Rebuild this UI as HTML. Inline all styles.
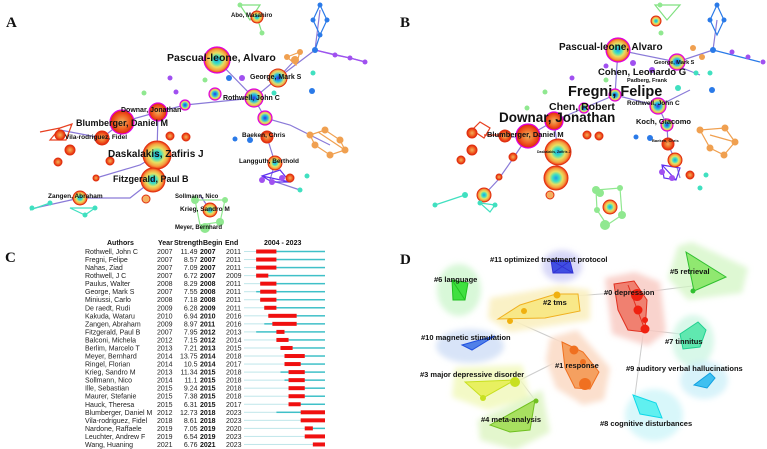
<!DOCTYPE html>
<html><head><meta charset="utf-8"><style>
html,body{margin:0;padding:0;background:#fff}
svg{display:block}
text{font-family:"Liberation Sans",sans-serif;font-weight:bold;fill:#111}
.pl{font-family:"Liberation Serif",serif;font-size:15px;font-weight:bold}
.t{font-size:7px;font-weight:normal;fill:#222}
.tb{font-size:7px;font-weight:bold;fill:#111}
</style></head><body>
<svg id="fig" width="767" height="449" viewBox="0 0 767 449" xmlns="http://www.w3.org/2000/svg">
<defs>
<radialGradient id="g1"><stop offset="0" stop-color="#1aa0e8"/><stop offset="0.3" stop-color="#40e0c0"/><stop offset="0.55" stop-color="#e8e060"/><stop offset="0.8" stop-color="#f5a040"/><stop offset="1" stop-color="#f03010"/></radialGradient>
<radialGradient id="g2"><stop offset="0" stop-color="#3030e0"/><stop offset="0.4" stop-color="#20c0e0"/><stop offset="0.7" stop-color="#e0e070"/><stop offset="1" stop-color="#f08030"/></radialGradient>
<radialGradient id="g3"><stop offset="0" stop-color="#f0b060"/><stop offset="0.6" stop-color="#f06020"/><stop offset="1" stop-color="#e02010"/></radialGradient>
<filter id="bl" x="-30%" y="-30%" width="160%" height="160%"><feGaussianBlur stdDeviation="3"/></filter>
</defs>

<!-- PANEL A -->
<g>
<text class="pl" x="6" y="27">A</text>
<g stroke-width="1.2" fill="none">
<path d="M217,60 L254,98 L278,78 L315,50 L320,10 M315,50 L350,58 L366,62 M278,78 L295,60 M254,98 L265,118 L290,125 L330,145 M254,98 L185,105 L158,112 L122,122 L102,138 L60,130 M157,155 L153,180 L130,198 L80,198 L35,208 M157,155 L158,112 M157,155 L140,165 L96,178 M210,210 L200,195 M267,137 L275,163 L270,180 L300,190" stroke="#8a7ad8"/>
<path d="M60,128 L72,124 L66,140 L50,140 Z M40,132 L60,128" stroke="#e84020"/>
<path d="M320,5 L327,20 L320,35 L313,20 Z M320,35 L315,50" stroke="#2a7ae8"/>
<path d="M315,50 L335,55 L350,58 L365,62" stroke="#a050f0"/>
<path d="M310,135 L325,130 L340,140 L345,150 L330,155 L315,145 Z M318,132 L345,150" stroke="#f0a050"/>
<path d="M262,176 L280,170 L290,182 L272,182 Z M262,176 L290,182" stroke="#6030f0"/>
<path d="M30,210 L50,203 M70,208 L85,215 L95,208 Z" stroke="#40e0c0"/>
<path d="M195,200 L225,200 L220,222 L200,225 Z" stroke="#90e890"/>
<path d="M240,5 L260,5 L250,20 Z M257,17 L262,33" stroke="#80e080"/>
<path d="M287,57 L300,52 L296,65 Z" stroke="#f0a050"/>
</g>
<g stroke="#e000e0" stroke-width="1.2">
<circle cx="217" cy="60" r="13" fill="url(#g1)"/>
<circle cx="254" cy="98" r="9" fill="url(#g2)"/>
<circle cx="215" cy="94" r="6" fill="url(#g2)"/>
<circle cx="265" cy="118" r="7" fill="url(#g2)"/>
<circle cx="185" cy="105" r="5" fill="url(#g2)"/>
<circle cx="158" cy="112" r="9" fill="url(#g3)"/>
<circle cx="122" cy="122" r="12" fill="url(#g3)"/>
</g>
<g stroke="#e03010" stroke-width="1">
<circle cx="278" cy="78" r="9" fill="url(#g2)"/>
<circle cx="102" cy="138" r="7" fill="url(#g3)"/>
<circle cx="60" cy="135" r="5" fill="url(#g3)"/>
<circle cx="70" cy="150" r="5" fill="url(#g3)"/>
<circle cx="58" cy="162" r="4" fill="url(#g3)"/>
<circle cx="110" cy="161" r="4" fill="url(#g3)"/>
<circle cx="96" cy="178" r="3" fill="url(#g3)"/>
<circle cx="157" cy="155" r="14" fill="url(#g1)"/>
<circle cx="153" cy="180" r="12" fill="url(#g1)"/>
<circle cx="170" cy="136" r="4" fill="url(#g3)"/>
<circle cx="186" cy="137" r="4" fill="url(#g3)"/>
<circle cx="80" cy="198" r="7" fill="url(#g1)"/>
<circle cx="210" cy="210" r="7" fill="url(#g1)"/>
<circle cx="267" cy="137" r="6" fill="url(#g3)"/>
<circle cx="275" cy="163" r="7" fill="url(#g1)"/>
<circle cx="257" cy="17" r="6" fill="url(#g1)"/>
<circle cx="290" cy="178" r="4" fill="url(#g3)"/>
<circle cx="146" cy="199" r="4" fill="#f5b060"/>
</g>
<g fill="#40e0c0"><circle cx="32" cy="208" r="2.5"/><circle cx="50" cy="203" r="2.5"/><circle cx="85" cy="215" r="2.5"/><circle cx="95" cy="208" r="2.5"/><circle cx="307" cy="176" r="2.5"/><circle cx="300" cy="190" r="2.5"/><circle cx="274" cy="93" r="2.5"/><circle cx="313" cy="73" r="2.5"/></g>
<g fill="#2a7ae8"><circle cx="320" cy="5" r="2.5"/><circle cx="327" cy="20" r="2.5"/><circle cx="313" cy="20" r="2.5"/><circle cx="320" cy="35" r="2.5"/><circle cx="315" cy="50" r="3"/><circle cx="312" cy="91" r="3"/><circle cx="235" cy="139" r="2.5"/><circle cx="250" cy="140" r="3"/><circle cx="229" cy="78" r="3"/></g>
<g fill="#a050f0"><circle cx="335" cy="55" r="2.5"/><circle cx="350" cy="58" r="2.5"/><circle cx="365" cy="62" r="2.5"/><circle cx="170" cy="78" r="2.5"/><circle cx="176" cy="92" r="2.5"/><circle cx="242" cy="78" r="3"/><circle cx="262" cy="180" r="3"/><circle cx="272" cy="182" r="3"/><circle cx="282" cy="178" r="3"/></g>
<g fill="#f0a050"><circle cx="310" cy="135" r="3.5"/><circle cx="325" cy="130" r="3.5"/><circle cx="340" cy="140" r="3.5"/><circle cx="345" cy="150" r="3.5"/><circle cx="330" cy="155" r="3.5"/><circle cx="315" cy="145" r="3.5"/><circle cx="287" cy="57" r="3"/><circle cx="300" cy="52" r="3"/><circle cx="295" cy="60" r="4"/></g>
<g fill="#90e890"><circle cx="195" cy="200" r="4"/><circle cx="225" cy="200" r="3"/><circle cx="220" cy="222" r="4"/><circle cx="205" cy="228" r="5"/><circle cx="240" cy="5" r="2.5"/><circle cx="262" cy="33" r="2.5"/><circle cx="144" cy="93" r="2.5"/><circle cx="205" cy="80" r="2.5"/></g>
<text x="167" y="61" font-size="10.5">Pascual-leone, Alvaro</text>
<text x="250" y="79" font-size="7">George, Mark S</text>
<text x="223" y="100" font-size="7">Rothwell, John C</text>
<text x="121" y="112" font-size="7">Downar, Jonathan</text>
<text x="76" y="126" font-size="9">Blumberger, Daniel M</text>
<text x="65" y="139" font-size="6.5">Vila-rodriguez, Fidel</text>
<text x="108" y="157" font-size="10">Daskalakis, Zafiris J</text>
<text x="113" y="182" font-size="9">Fitzgerald, Paul B</text>
<text x="48" y="198" font-size="6.5">Zangen, Abraham</text>
<text x="175" y="198" font-size="6">Sollmann, Nico</text>
<text x="180" y="211" font-size="6.5">Krieg, Sandro M</text>
<text x="175" y="229" font-size="6">Meyer, Bernhard</text>
<text x="242" y="137" font-size="6.5">Baeken, Chris</text>
<text x="239" y="163" font-size="6.5">Langguth, Berthold</text>
<text x="231" y="17" font-size="6">Abo, Masahiro</text>
</g>

<!-- PANEL B -->
<g>
<text class="pl" x="400" y="27">B</text>
<g stroke-width="1.2" fill="none">
<path d="M618,50 L615,95 L584,108 L554,121 L528,136 L500,138 M618,50 L677,62 L713,50 L717,20 M615,95 L658,106 L667,125 L668,144 L675,160 L680,178 M554,121 L558,152 L556,178 M528,136 L512,160 L498,180 L484,195 M667,62 L700,75 M658,106 L690,90" stroke="#8a7ad8"/>
<path d="M472,130 L480,122 L490,128 L484,138 Z M484,135 L506,135" stroke="#e84020"/>
<path d="M717,5 L724,20 L717,35 L710,20 Z M713,50 L760,62" stroke="#2a7ae8"/>
<path d="M700,130 L725,128 L735,142 L724,155 L710,148 Z M710,135 L735,142" stroke="#f0a050"/>
<path d="M662,165 L680,168 L676,180 L664,178 Z M662,165 L676,180" stroke="#6030f0"/>
<path d="M435,205 L465,195 M480,203 L495,205 L490,212 Z" stroke="#40e0c0"/>
<path d="M596,190 L620,188 L622,215 L607,225 L597,210 Z" stroke="#90e890"/>
<path d="M655,5 L680,5 L667,20 Z" stroke="#80e080"/>
</g>
<g stroke="#e000e0" stroke-width="1.2">
<circle cx="618" cy="50" r="12" fill="url(#g1)"/>
<circle cx="677" cy="62" r="8" fill="url(#g2)"/>
<circle cx="615" cy="95" r="6" fill="url(#g2)"/>
<circle cx="584" cy="108" r="5" fill="url(#g2)"/>
<circle cx="658" cy="106" r="8" fill="url(#g2)"/>
<circle cx="554" cy="121" r="9" fill="url(#g3)"/>
<circle cx="667" cy="125" r="6" fill="url(#g2)"/>
<circle cx="528" cy="136" r="12" fill="url(#g3)"/>
</g>
<g stroke="#e03010" stroke-width="1">
<circle cx="558" cy="152" r="13" fill="url(#g1)"/>
<circle cx="556" cy="178" r="12" fill="url(#g1)"/>
<circle cx="668" cy="144" r="6" fill="url(#g3)"/>
<circle cx="675" cy="160" r="7" fill="url(#g1)"/>
<circle cx="505" cy="136" r="6" fill="url(#g3)"/>
<circle cx="472" cy="133" r="5" fill="url(#g3)"/>
<circle cx="472" cy="150" r="5" fill="url(#g3)"/>
<circle cx="461" cy="160" r="4" fill="url(#g3)"/>
<circle cx="513" cy="157" r="4" fill="url(#g3)"/>
<circle cx="499" cy="177" r="3" fill="url(#g3)"/>
<circle cx="484" cy="195" r="7" fill="url(#g1)"/>
<circle cx="610" cy="207" r="7" fill="url(#g1)"/>
<circle cx="656" cy="21" r="5" fill="url(#g1)"/>
<circle cx="690" cy="175" r="4" fill="url(#g3)"/>
<circle cx="587" cy="135" r="4" fill="url(#g3)"/>
<circle cx="599" cy="136" r="4" fill="url(#g3)"/>
<circle cx="550" cy="195" r="4" fill="#f5b060"/>
</g>
<g fill="#40e0c0"><circle cx="435" cy="205" r="2.5"/><circle cx="465" cy="195" r="3"/><circle cx="480" cy="203" r="2.5"/><circle cx="495" cy="205" r="2.5"/><circle cx="696" cy="73" r="2.5"/><circle cx="710" cy="73" r="2.5"/><circle cx="706" cy="175" r="2.5"/><circle cx="700" cy="188" r="2.5"/><circle cx="678" cy="88" r="3"/></g>
<g fill="#2a7ae8"><circle cx="717" cy="5" r="2.5"/><circle cx="724" cy="20" r="2.5"/><circle cx="710" cy="20" r="2.5"/><circle cx="713" cy="50" r="3"/><circle cx="712" cy="90" r="3"/><circle cx="636" cy="137" r="2.5"/><circle cx="650" cy="138" r="3"/></g>
<g fill="#a050f0"><circle cx="732" cy="52" r="2.5"/><circle cx="748" cy="57" r="2.5"/><circle cx="763" cy="62" r="2.5"/><circle cx="572" cy="78" r="2.5"/><circle cx="606" cy="66" r="2.5"/><circle cx="633" cy="63" r="3"/><circle cx="662" cy="172" r="3"/><circle cx="672" cy="178" r="3"/><circle cx="652" cy="70" r="3"/></g>
<g fill="#f0a050"><circle cx="700" cy="130" r="3.5"/><circle cx="725" cy="128" r="3.5"/><circle cx="735" cy="142" r="3.5"/><circle cx="724" cy="155" r="3.5"/><circle cx="710" cy="148" r="3.5"/><circle cx="693" cy="48" r="3"/><circle cx="702" cy="57" r="3"/></g>
<g fill="#90e890"><circle cx="596" cy="190" r="4"/><circle cx="620" cy="188" r="3"/><circle cx="622" cy="215" r="4"/><circle cx="605" cy="225" r="5"/><circle cx="597" cy="210" r="3"/><circle cx="600" cy="193" r="4"/><circle cx="660" cy="5" r="2.5"/><circle cx="661" cy="33" r="2.5"/><circle cx="545" cy="92" r="2.5"/><circle cx="527" cy="108" r="2.5"/><circle cx="606" cy="80" r="2.5"/></g>
<text x="559" y="50" font-size="10">Pascual-leone, Alvaro</text>
<text x="654" y="64" font-size="5.5">George, Mark S</text>
<text x="598" y="75" font-size="9.5">Cohen, Leonardo G</text>
<text x="627" y="82" font-size="5.5">Padberg, Frank</text>
<text x="568" y="96" font-size="14.5">Fregni, Felipe</text>
<text x="549" y="110" font-size="10.5">Chen, Robert</text>
<text x="627" y="105" font-size="6.5">Rothwell, John C</text>
<text x="499" y="122" font-size="13.5">Downar, Jonathan</text>
<text x="636" y="124" font-size="7.5">Koch, Giacomo</text>
<text x="487" y="137" font-size="7.5">Blumberger, Daniel M</text>
<text x="652" y="142" font-size="4">Baeken, Chris</text>
<text x="537" y="153" font-size="3.5">Daskalakis, Zafiris J</text>
</g>

<!-- PANEL C -->
<g id="panelC">
<text class="pl" x="5" y="262">C</text>
<text class="tb" x="107" y="245">Authors</text>
<text class="tb" x="158" y="245">Year</text>
<text class="tb" x="174" y="245">Strength</text>
<text class="tb" x="203" y="245">Begin</text>
<text class="tb" x="225" y="245">End</text>
<text class="tb" x="264" y="245">2004 - 2023</text>
</g>

<!-- PANEL D -->
<g>
<text class="pl" x="400" y="264">D</text>
<g stroke="#ccc" stroke-width="1" fill="none">
<line x1="512" y1="320" x2="568" y2="345"/><line x1="560" y1="297" x2="615" y2="293"/><line x1="645" y1="292" x2="700" y2="285"/><line x1="645" y1="330" x2="690" y2="335"/><line x1="643" y1="335" x2="635" y2="395"/><line x1="520" y1="380" x2="560" y2="360"/><line x1="520" y1="380" x2="535" y2="400"/>
</g>
<g filter="url(#bl)">
<ellipse cx="562" cy="266" rx="20" ry="16" fill="#c8c8f5" opacity="0.7"/>
<ellipse cx="459" cy="290" rx="22" ry="26" fill="#c8f5c8" opacity="0.7"/>
<path d="M678,246 L692,242 L748,268 L742,293 L688,300 L668,278 Z" fill="#d0f5c0" opacity="0.7"/>
<path d="M605,278 L635,272 L660,282 L666,332 L648,346 L612,334 Z" fill="#f8c8c0" opacity="0.8"/>
<path d="M490,298 L560,286 L590,290 L590,320 L510,332 L488,318 Z" fill="#faf0c0" opacity="0.9"/>
<ellipse cx="470" cy="346" rx="34" ry="17" fill="#c8d8f5" opacity="0.7"/>
<ellipse cx="693" cy="341" rx="21" ry="26" fill="#c8f5e0" opacity="0.7"/>
<path d="M550,338 L577,330 L610,368 L604,400 L583,405 L556,388 L546,360 Z" fill="#fbdcc8" opacity="0.9"/>
<ellipse cx="704" cy="380" rx="24" ry="19" fill="#c8eef8" opacity="0.7"/>
<path d="M455,368 L522,365 L530,398 L488,410 L452,397 Z" fill="#f2f8c0" opacity="0.9"/>
<path d="M478,420 L542,390 L550,432 L515,450 L480,440 Z" fill="#e0f5c8" opacity="0.9"/>
<ellipse cx="654" cy="415" rx="29" ry="26" fill="#c8f4f8" opacity="0.7"/>
</g>
<g stroke-width="1" >
<path d="M551,260 L570,261 L573,273 L553,273 Z M551,260 L573,273 M570,261 L553,273" fill="#3040e0" stroke="#2020d0" opacity="0.9"/>
<path d="M452,280 L468,283 L465,300 L453,300 Z M452,280 L465,300" fill="#40e040" stroke="#20c020"/>
<path d="M686,252 L726,277 L694,291 Z M686,252 L694,291" fill="#90e870" stroke="#30c030"/>
<path d="M614,284 L634,281 L647,300 L645,332 L628,330 L618,310 Z M628,285 L645,330" fill="#f08070" stroke="#e03020"/>
<path d="M498,319 L520,305 L556,294 L578,294 L580,311 L545,318 Z" fill="#f8e888" stroke="#f0b020"/>
<path d="M462,345 L476,341 L495,336 L472,350 Z" fill="#5080e8" stroke="#2050e0"/>
<path d="M680,334 L698,322 L706,330 L700,347 L683,349 Z" fill="#60e8b0" stroke="#20d090"/>
<path d="M562,342 L583,352 L599,372 L590,389 L575,388 L565,368 Z" fill="#f5a060" stroke="#f07020"/>
<path d="M694,385 L710,373 L715,378 L707,388 Z" fill="#40c0f0" stroke="#10a0e0"/>
<path d="M465,382 L515,380 L483,398 Z" fill="#e8f060" stroke="#c8e020"/>
<path d="M490,425 L535,400 L530,430 L510,432 Z" fill="#a8e060" stroke="#70c020"/>
<path d="M633,395 L656,403 L662,418 L640,414 Z" fill="#60f0f0" stroke="#10d8e8"/>
</g>
<g fill="#f02010"><circle cx="637" cy="295" r="6"/><circle cx="638" cy="310" r="4.5"/><circle cx="645" cy="329" r="4.5"/><circle cx="645" cy="320" r="3"/></g>
<g fill="#f07020"><circle cx="574" cy="350" r="4.5"/><circle cx="585" cy="384" r="6"/><circle cx="583" cy="362" r="3"/></g>
<g fill="#f0b010"><circle cx="510" cy="321" r="3"/><circle cx="557" cy="295" r="3.5"/><circle cx="524" cy="311" r="3"/></g>
<circle cx="515" cy="382" r="5" fill="#c8e020"/>
<circle cx="483" cy="398" r="3" fill="#c8e020"/>
<circle cx="536" cy="401" r="2.5" fill="#70c020"/>
<circle cx="693" cy="291" r="2.5" fill="#30c030"/>
<text x="490" y="262" font-size="7.5">#11 optimized treatment protocol</text>
<text x="434" y="282" font-size="7.5">#6 language</text>
<text x="670" y="274" font-size="7.5">#5 retrieval</text>
<text x="604" y="295" font-size="7.5">#0 depression</text>
<text x="543" y="305" font-size="7.5">#2 tms</text>
<text x="421" y="340" font-size="7.5">#10 magnetic stimulation</text>
<text x="665" y="344" font-size="7.5">#7 tinnitus</text>
<text x="555" y="368" font-size="7.5">#1 response</text>
<text x="626" y="371" font-size="7.5">#9 auditory verbal hallucinations</text>
<text x="420" y="377" font-size="7.5">#3 major depressive disorder</text>
<text x="481" y="422" font-size="7.5">#4 meta-analysis</text>
<text x="600" y="426" font-size="7.5">#8 cognitive disturbances</text>
</g>
</svg>
<script>
const authors=["Rothwell, John C","Fregni, Felipe","Nahas, Ziad","Rothwell, J C","Paulus, Walter","George, Mark S","Miniussi, Carlo","De raedt, Rudi","Kakuda, Wataru","Zangen, Abraham","Fitzgerald, Paul B","Balconi, Michela","Berlim, Marcelo T","Meyer, Bernhard","Ringel, Florian","Krieg, Sandro M","Sollmann, Nico","Ille, Sebastian","Maurer, Stefanie","Hauck, Theresa","Blumberger, Daniel M","Vila-rodriguez, Fidel","Nardone, Raffaele","Leuchter, Andrew F","Wang, Huaning"];
const years=[2007,2007,2007,2007,2008,2007,2008,2009,2010,2009,2007,2012,2013,2014,2014,2013,2014,2015,2015,2015,2012,2018,2019,2019,2021];
const strengths=["11.49","8.57","7.09","6.72","8.29","7.55","7.18","6.28","6.94","8.97","7.95","7.15","7.21","13.75","10.5","11.34","11.1","9.24","7.38","6.31","12.73","8.61","7.05","6.54","6.76"];
const begins=[2007,2007,2007,2007,2008,2008,2008,2009,2010,2011,2012,2012,2013,2014,2014,2015,2015,2015,2015,2015,2018,2018,2019,2019,2021];
const ends=[2011,2011,2011,2009,2011,2011,2011,2011,2016,2016,2013,2014,2015,2018,2017,2018,2018,2018,2018,2017,2023,2023,2020,2023,2023];
const NS="http://www.w3.org/2000/svg";
const g=document.getElementById('panelC');
const y0=251.5,dy=8.04,x0=244,yw=4.05,startY=2004,endY=2023;
const xs=yr=>x0+(yr-startY)*yw;
function mk(tag,attrs){const e=document.createElementNS(NS,tag);for(const k in attrs)e.setAttribute(k,attrs[k]);g.appendChild(e);return e;}
authors.forEach((a,i)=>{
  const y=y0+i*dy;
  let t=mk('text',{x:85,y:y+2.5,class:'t'});t.textContent=a;
  
  
  t=mk('text',{x:157,y:y+2.5,class:'t'});t.textContent=years[i];
  
  
  t=mk('text',{x:197.5,y:y+2.5,class:'t','text-anchor':'end'});t.textContent=strengths[i];
  
  
  t=mk('text',{x:200,y:y+2.5,class:'tb'});t.textContent=begins[i];
  
  
  t=mk('text',{x:226,y:y+2.5,class:'t'});t.textContent=ends[i];
  
  
  let r=mk('rect',{x:x0,y:y-0.5,width:xs(years[i])-x0,height:1,fill:'#bfe6ea'});
  
  
  r=mk('rect',{x:xs(years[i]),y:y-0.75,width:xs(endY+1)-xs(years[i]),height:1.5,fill:'#3fc0c8'});
  
  
  r=mk('rect',{x:xs(begins[i]),y:y-2,width:xs(ends[i]+1)-xs(begins[i]),height:4,fill:'#f01010'});
  
  
});
</script>
</body></html>
